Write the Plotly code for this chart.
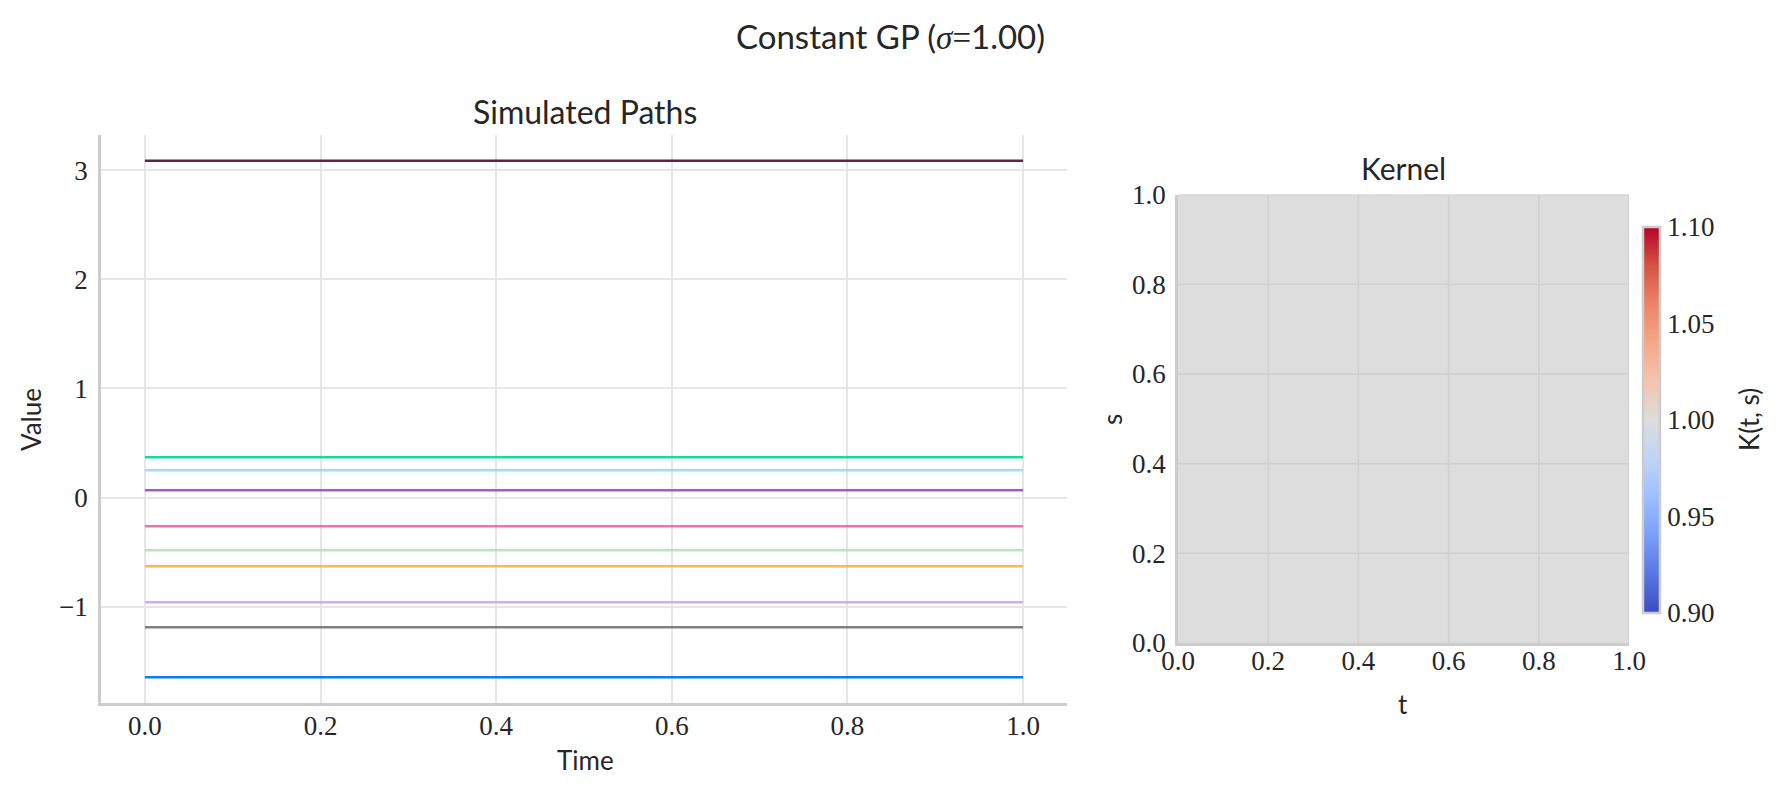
import plotly.graph_objects as go

# constant GP: every path is flat in time
sigma = 1.00
times = [0.0, 1.0]
path_values = [3.086, 0.370, 0.251, 0.068, -0.262, -0.482, -0.629, -0.959, -1.188, -1.646]
path_colors = ["#5b2448", "#14d9a0", "#a0dcff", "#a05ccc", "#f070b0",
               "#b9e4c0", "#ffb84f", "#d5aaf5", "#808080", "#0a7aff"]

# kernel K(t, s) = sigma^2 on the unit square
kernel_edges = [0.0, 0.5, 1.0]
kernel_values = [[1.0, 1.0], [1.0, 1.0]]
kernel_ticks = [0.0, 0.2, 0.4, 0.6, 0.8, 1.0]
cbar_ticks = [0.90, 0.95, 1.00, 1.05, 1.10]

coolwarm = [
    [0.0, "rgb(59,76,192)"], [0.1, "rgb(89,118,226)"], [0.2, "rgb(122,158,249)"],
    [0.3, "rgb(158,190,255)"], [0.4, "rgb(192,212,245)"], [0.5, "rgb(221,221,221)"],
    [0.6, "rgb(244,196,173)"], [0.7, "rgb(246,167,137)"], [0.8, "rgb(237,132,103)"],
    [0.9, "rgb(213,82,67)"], [1.0, "rgb(180,4,38)"],
]

W, H = 1780, 793
OFF = 8  # page body margin
SANS = "Lato"
SERIF = "Liberation Serif"
TXT = "#262626"


def fx(px):
    return (px - OFF) / W


def fy(py):
    return 1 - (py - OFF) / H


fig = go.Figure()

for v, c in zip(path_values, path_colors):
    fig.add_trace(go.Scatter(x=times, y=[v, v], mode="lines",
                             line=dict(color=c, width=2.5),
                             showlegend=False, hoverinfo="skip",
                             xaxis="x", yaxis="y"))

fig.add_trace(go.Heatmap(
    x=kernel_edges, y=kernel_edges, z=kernel_values,
    zmin=0.9, zmax=1.1, colorscale=coolwarm, hoverinfo="skip",
    xaxis="x2", yaxis="y2",
    colorbar=dict(
        x=fx(1643), xanchor="left", xpad=0,
        y=fy(420), yanchor="middle", ypad=0,
        len=386 / H, lenmode="fraction", thickness=17,
        outlinecolor="#cccccc", outlinewidth=2.5,
        tickvals=cbar_ticks, tickformat=".2f", ticks="", ticklen=0,
        tickfont=dict(family=SERIF, size=27, color=TXT),
    ),
))

lo, hi = min(path_values), max(path_values)
pad = 0.05 * (hi - lo)

tick_font = dict(family=SERIF, size=27, color=TXT)
common = dict(showline=True, linecolor="#cccccc", linewidth=2.5, zeroline=False,
              ticks="", tickfont=tick_font, automargin=False)

fig.update_layout(
    width=W, height=H,
    margin=dict(l=0, r=0, t=0, b=0, autoexpand=False),
    paper_bgcolor="white", plot_bgcolor="white",
    xaxis=dict(domain=[fx(101), fx(1067)], range=[-0.05, 1.05],
               tickvals=kernel_ticks, tickformat=".1f", anchor="y",
               showgrid=True, gridcolor="#e6e6e6", gridwidth=1.6,
               ticklabelstandoff=-3, **common),
    yaxis=dict(domain=[fy(703), fy(135)], range=[lo - pad, hi + pad],
               tickvals=[-1, 0, 1, 2, 3], anchor="x",
               showgrid=True, gridcolor="#e6e6e6", gridwidth=1.6,
               ticklabelstandoff=5, **common),
    xaxis2=dict(domain=[fx(1178), fx(1629)], range=[0, 1],
                tickvals=kernel_ticks, tickformat=".1f", anchor="y2",
                showgrid=False, ticklabelstandoff=-8, **common),
    yaxis2=dict(domain=[fy(643), fy(194.5)], range=[0, 1],
                tickvals=kernel_ticks, tickformat=".1f", anchor="x2",
                showgrid=False, ticklabelstandoff=4, **common),
)

# grid over the kernel image, as in the original
for tv in kernel_ticks[1:]:
    fig.add_shape(type="line", xref="x2", yref="y2", x0=tv, x1=tv, y0=0, y1=1,
                  line=dict(color="#d0d0d0", width=1.6), layer="above")
    fig.add_shape(type="line", xref="x2", yref="y2", x0=0, x1=1, y0=tv, y1=tv,
                  line=dict(color="#d0d0d0", width=1.6), layer="above")


def label(text, px, py, size, angle=0):
    fig.add_annotation(text=text, x=fx(px), y=fy(py), xref="paper", yref="paper",
                       showarrow=False, textangle=angle, xanchor="center", yanchor="middle",
                       font=dict(family=SANS, size=size, color=TXT))


label("Constant GP (<span style='font-family:Liberation Serif'><i>σ</i>=</span>%.2f)" % sigma,
      890, 36, 33)
label("Simulated Paths", 585, 111, 32)
label("Kernel", 1403, 168, 30)
label("Time", 585, 760, 26)
label("Value", 31, 420, 26, -90)
label("t", 1403, 704, 26)
label("s", 1112, 420, 26, -90)
label("K(t, s)", 1749, 420, 26, -90)

fig.write_html("out.html")
